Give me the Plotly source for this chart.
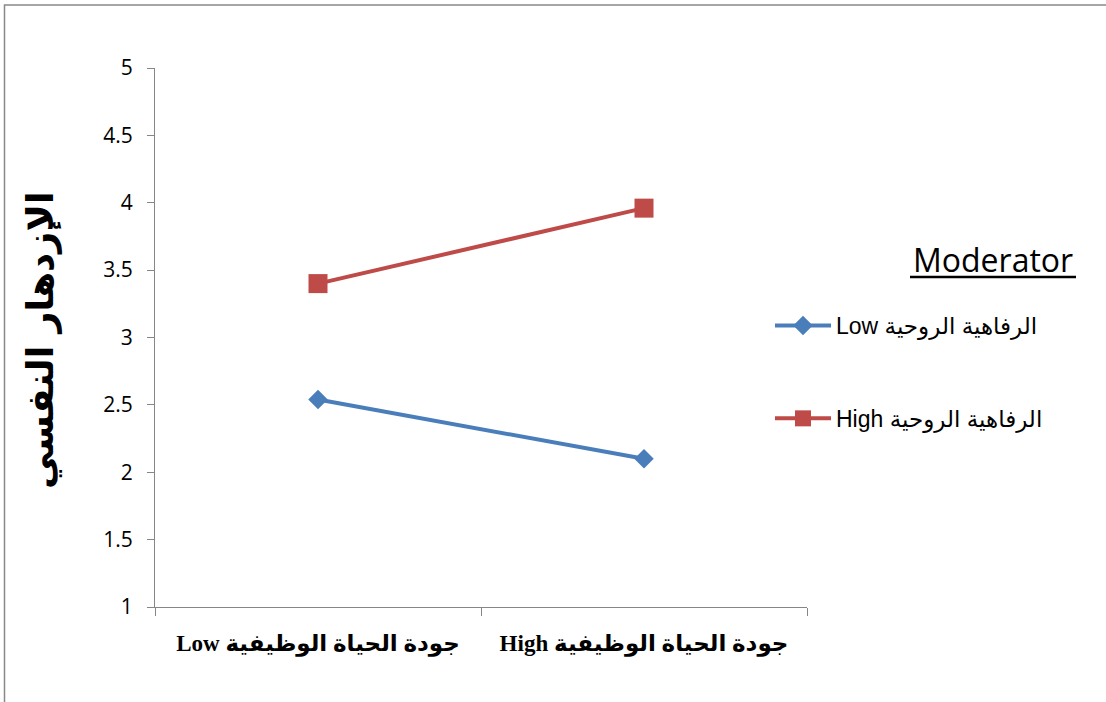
import plotly.graph_objects as go

# ---- data ----
categories = ["Low جودة الحياة الوظيفية", "High جودة الحياة الوظيفية"]
series_names = ["Low الرفاهية الروحية", "High الرفاهية الروحية"]
low_values = [2.54, 2.10]
high_values = [3.40, 3.96]
y_ticks = [1, 1.5, 2, 2.5, 3, 3.5, 4, 4.5, 5]
y_title = "الإزدهار النفسي"
legend_title = "Moderator"

W, H = 1106, 702
L, R, T, B = 155, 299, 68, 95
PW, PH = W - L - R, H - T - B


def px(x):
    return (x - L) / PW


def py(y):
    return (H - B - y) / PH


fig = go.Figure()
fig.add_trace(go.Scatter(
    x=categories, y=low_values, name=series_names[0], mode="lines+markers",
    line=dict(color="#4A7EBB", width=4),
    marker=dict(symbol="diamond", size=15, color="#4A7EBB"),
    legendgroup="a",
))
fig.add_trace(go.Scatter(
    x=categories, y=high_values, name=series_names[1], mode="lines+markers",
    line=dict(color="#BE4B48", width=4),
    marker=dict(symbol="square", size=19, color="#BE4B48"),
    legendgroup="b",
))

axis_color = "#868686"
border_color = "#898989"
border_path = (
    f"M {px(4.5)},{py(702)} L {px(4.5)},{py(5)} L {px(1112)},{py(5)}"
)
fig.update_layout(
    width=W, height=H, autosize=False,
    margin=dict(l=L, r=R, t=T, b=B, pad=0),
    paper_bgcolor="white", plot_bgcolor="white",
    showlegend=True,
    legend=dict(
        x=px(770), y=py(304), xanchor="left", yanchor="top",
        traceorder="grouped", tracegroupgap=60, itemwidth=56,
        font=dict(family="Liberation Sans, DejaVu Sans", size=23, color="black"),
        bgcolor="rgba(0,0,0,0)",
    ),
    xaxis=dict(
        type="category", range=[-0.5, 1.5], tickson="boundaries",
        ticks="outside", ticklen=8, tickcolor=axis_color, tickwidth=1,
        showline=True, linecolor=axis_color, linewidth=1, showgrid=False,
        zeroline=False, ticklabelstandoff=15,
        tickfont=dict(family="Liberation Serif, DejaVu Sans", size=23, color="black", weight="bold"),
    ),
    yaxis=dict(
        range=[1, 5], tickvals=y_ticks, ticktext=[f"{v:g}" for v in y_ticks],
        ticks="outside", ticklen=7, tickcolor=axis_color, tickwidth=1,
        showline=True, linecolor=axis_color, linewidth=1, showgrid=False,
        zeroline=False, ticklabelstandoff=10,
        tickfont=dict(family="Open Sans, Liberation Sans", size=21, color="black"),
    ),
    annotations=[
        dict(text=f"<b>{y_title}</b>", xref="paper", yref="paper",
             x=px(40), y=py(340), xanchor="center", yanchor="middle",
             textangle=-90, showarrow=False,
             font=dict(family="DejaVu Sans", size=37, color="black")),
        dict(text=legend_title, xref="paper", yref="paper",
             x=px(993), y=py(259), xanchor="center", yanchor="middle",
             showarrow=False,
             font=dict(family="Open Sans, Liberation Sans", size=32, color="black")),
    ],
    shapes=[
        dict(type="line", xref="paper", yref="paper",
             x0=px(910), x1=px(1076), y0=py(277), y1=py(277),
             line=dict(color="black", width=2.5)),
        dict(type="path", xref="paper", yref="paper", path=border_path,
             line=dict(color=border_color, width=1.5), layer="below"),
    ],
)

fig.write_html("out.html")
